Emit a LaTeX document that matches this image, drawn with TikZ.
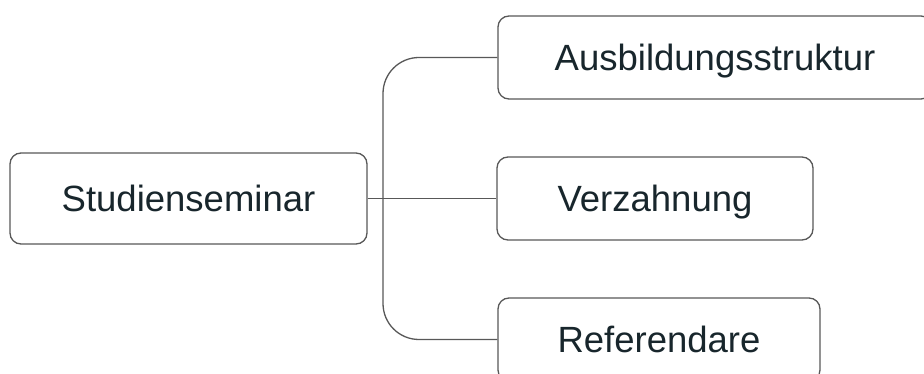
\documentclass[tikz,border=0pt]{standalone}
\usepackage{fontspec}
\setmainfont{Liberation Sans}
\definecolor{linegray}{RGB}{88,88,88}
\definecolor{labelink}{RGB}{24,38,44}
\tikzset{
  topic/.style={draw=linegray, line width=1.3pt, rounded corners=11pt, fill=white,
    inner sep=0pt, text=labelink, font=\fontsize{36.5}{44}\selectfont,
    text height=26pt, text depth=0pt},
  branch/.style={draw=linegray, line width=1.3pt}
}
\begin{document}
\begin{tikzpicture}[x=1pt,y=-1pt]
  \useasboundingbox (0,0) rectangle (924,374);
  % root and child topics
  \node[topic, minimum width=357pt, minimum height=91pt] (stud) at (188.5,198.5) {Studienseminar};
  \node[topic, minimum width=434pt, minimum height=83pt] (aus) at (715,57.5) {Ausbildungsstruktur};
  \node[topic, minimum width=316pt, minimum height=83pt] (verz) at (655,198.5) {Verzahnung};
  \node[topic, minimum width=322pt, minimum height=83pt] (ref) at (659,339.5) {Referendare};
  % trunk with rounded branches
  \coordinate (trunktop) at (383,57.5);
  \coordinate (trunkbot) at (383,339.5);
  \draw[branch, rounded corners=36pt] (aus.west) -- (trunktop) -- (trunkbot) -- (ref.west);
  \draw[branch] (stud.east) -- (verz.west);
\end{tikzpicture}
\end{document}
